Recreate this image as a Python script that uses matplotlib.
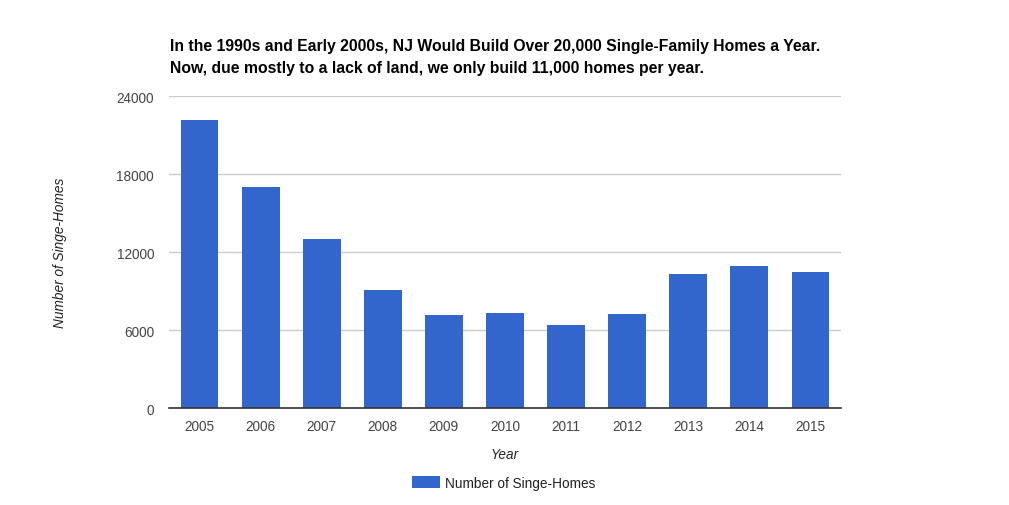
import matplotlib
matplotlib.use('Agg')
import matplotlib.pyplot as plt
from matplotlib.patches import Patch

plt.rcParams['font.family'] = ['Liberation Sans', 'DejaVu Sans']

# data
years = ['2005', '2006', '2007', '2008', '2009', '2010',
         '2011', '2012', '2013', '2014', '2015']
homes = [22180, 17020, 13020, 9100, 7180, 7330,
         6410, 7250, 10330, 10950, 10490]
y_ticks = [0, 6000, 12000, 18000, 24000]

title = ("In the 1990s and Early 2000s, NJ Would Build Over 20,000 Single-Family Homes a Year.\n"
         "Now, due mostly to a lack of land, we only build 11,000 homes per year.")
series_name = 'Number of Singe-Homes'
bar_color = '#3366cc'

W, H = 1009, 506
fig = plt.figure(figsize=(W / 100, H / 100), dpi=100)
ax = fig.add_axes([169 / W, 1 - 409.3 / H, (841 - 169) / W, (409.3 - 97.3) / H])

x = range(len(years))
ax.bar(x, homes, width=0.62, color=bar_color, zorder=3)

ax.set_xlim(-0.5, len(years) - 0.5)
ax.set_ylim(0, 24000)
ax.set_yticks(y_ticks)
ax.set_yticklabels([str(t) for t in y_ticks])
ax.set_xticks(list(x))
ax.set_xticklabels(years)
ax.tick_params(axis='both', length=0, labelsize=9.8, labelcolor='#444444')
ax.tick_params(axis='y', pad=10.8)
ax.tick_params(axis='x', pad=8)

ax.grid(axis='y', color='#cccccc', linewidth=1, zorder=0)
for side in ['top', 'right', 'left']:
    ax.spines[side].set_visible(False)
ax.spines['bottom'].set_color('#333333')
ax.spines['bottom'].set_linewidth(1.2)
ax.spines['bottom'].set_zorder(4)

ax.set_xlabel('Year', fontsize=9.8, style='italic', color='#222222', labelpad=10)
ax.set_ylabel(series_name, fontsize=9.8, style='italic', color='#222222', labelpad=0)
ax.yaxis.set_label_coords((67 - 169) / (841 - 169), 0.5)

fig.text(170 / W, 1 - 39 / H, title, fontsize=11.3, fontweight='bold', color='#000000',
         ha='left', va='top', linespacing=1.56)

handles = [Patch(facecolor=bar_color, edgecolor='none', label=series_name)]
fig.legend(handles=handles, loc='center', bbox_to_anchor=(504 / W, 1 - 484 / H),
           frameon=False, fontsize=9.8, handlelength=2.0, handleheight=1.0,
           handletextpad=0.4, labelcolor='#222222')

fig.savefig('out.png', dpi=100)
